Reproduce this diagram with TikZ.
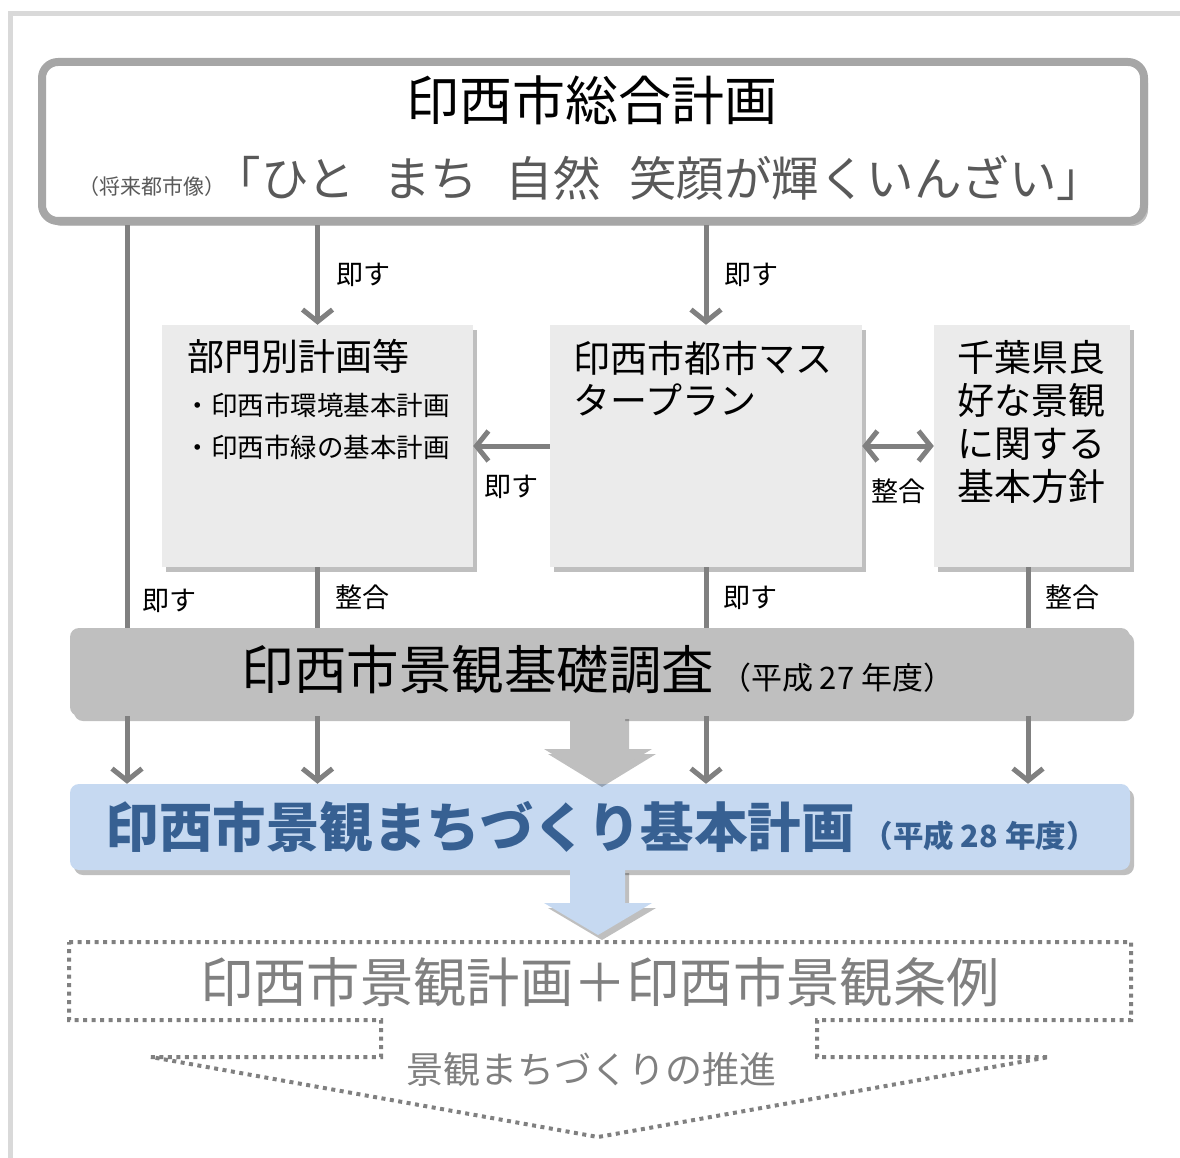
\documentclass[tikz,border=0pt]{standalone}
\usepackage{fontspec}
\setmainfont{Noto Sans CJK JP}
\usetikzlibrary{arrows.meta,shadows}

\definecolor{linegray}{HTML}{808080}
\definecolor{framegray}{HTML}{D9D9D9}
\definecolor{rimgray}{HTML}{A6A6A6}
\definecolor{boxgray}{HTML}{EBEBEB}
\definecolor{basegray}{HTML}{BFBFBF}
\definecolor{planblue}{HTML}{C6D9F1}
\definecolor{inkblue}{HTML}{376092}
\definecolor{inkgray}{HTML}{595959}
\newcommand{\fsz}[1]{\fontsize{#1}{#1}\selectfont}

\tikzset{
  dropsh/.style={drop shadow={shadow xshift=4pt,shadow yshift=-5pt,opacity=.25,fill=black}},
  box/.style={fill=boxgray,inner sep=0pt,minimum height=242pt,dropsh},
  band/.style={rounded corners=9pt,inner sep=0pt,minimum width=1060pt,dropsh},
  rel/.style={inner sep=0pt,font=\fsz{27}},
  ln/.style={draw=linegray,line width=5pt},
  arr/.style={ln,-{Straight Barb[length=12pt,width=30pt]}},
}

\begin{document}
\begin{tikzpicture}[x=1pt,y=-1pt]
  \useasboundingbox (0,0) rectangle (1180,1158);
  \draw[framegray,line width=5pt] (10,1160) -- (10,14) -- (1180,14);

  % general plan
  \node[draw=rimgray,line width=8pt,rounded corners=16pt,fill=white,
        minimum width=1102pt,minimum height=159pt,inner sep=0pt,dropsh] (sogo) at (593,141.5) {};
  \node[anchor=base] (title) at (592,121) {\fsz{53}印西市総合計画};
  \node[anchor=base,text=inkgray] (zou) at (152,195) {\fsz{21}（将来都市像）};
  \node[anchor=base,text=inkgray] (motto) at (659,197)
    {\fsz{47.5}「ひと\hspace*{28pt}まち\hspace*{28pt}自然\hspace*{28pt}笑顔が輝くいんざい」};

  % middle row
  \node[box,minimum width=311pt] (bumon) at (317.5,446) {};
  \node[box,minimum width=312pt] (master) at (706,446) {};
  \node[box,minimum width=196pt] (chiba) at (1032,446) {};
  \node[anchor=base west] (bumont) at (184,370) {\fsz{37}部門別計画等};
  \node[anchor=west,align=left,font={\fontsize{26.5}{42}\selectfont}] (bumonl) at (181,426)
    {・印西市環境基本計画\\ ・印西市緑の基本計画};
  \node[anchor=west,align=left,font={\fontsize{37}{42}\selectfont}] (mastert) at (570,379)
    {印西市都市マス\\ タープラン};
  \node[anchor=west,align=left,font={\fontsize{37}{43}\selectfont}] (chibat) at (954,422)
    {千葉県良\\ 好な景観\\ に関する\\ 基本方針};

  % survey and plan
  \node[band,fill=basegray,minimum height=88pt] (base) at (600,672) {};
  \node[anchor=base west] (baset) at (238,689)
    {\fsz{52.5}印西市景観基礎調査\hspace{6pt}{\fsz{31}（平成 27 年度）}};
  \node[band,fill=planblue,minimum height=86pt] (plan) at (600,827) {};
  \node[anchor=base west,text=inkblue] (plant) at (102,847)
    {\bfseries\fsz{53.5}印西市景観まちづくり基本計画\hspace{8pt}{\fsz{30.5}（平成 28 年度）}};

  \coordinate (c1) at (127,0);
  \coordinate (c4) at (1028,0);

  % connectors
  \draw[arr] (sogo.south -| bumon.north) -- node[rel,anchor=west,xshift=16pt] {即す} (bumon.north);
  \draw[arr] (sogo.south -| master.north) -- node[rel,anchor=west,xshift=16pt] {即す} (master.north);
  \draw[ln] (sogo.south -| c1) -- (base.north -| c1);
  \node[rel,anchor=west] (l1) at (142,601) {即す};
  \draw[ln] (bumon.south) -- node[rel,anchor=west,xshift=15pt] {整合} (bumon.south |- base.north);
  \draw[ln] (master.south) -- node[rel,anchor=west,xshift=15pt] {即す} (master.south |- base.north);
  \draw[ln] (chiba.south -| c4) -- node[rel,anchor=west,xshift=15pt] {整合} (base.north -| c4);
  \draw[arr] (master.west) -- node[rel,below=27pt] {即す} (bumon.east);
  \draw[ln,{Straight Barb[length=12pt,width=30pt]}-{Straight Barb[length=12pt,width=30pt]}]
    (master.east) -- node[rel,below=30pt] {整合} (chiba.west);

  \foreach \c in {c1,bumon,master,c4}
    \draw[arr] (base.south -| \c) -- (plan.north -| \c);

  % block arrows
  \fill[basegray,dropsh] (570,714) -- (625,714) -- (625,749) -- (652,749) -- (598,782)
    -- (544,749) -- (570,749) -- cycle;
  \fill[planblue,dropsh] (570,868) -- (625,868) -- (625,903) -- (652,903) -- (598,935)
    -- (544,903) -- (570,903) -- cycle;

  % outlook
  \draw[linegray,line width=4pt,dash pattern=on 4pt off 4.5pt]
    (69,942) -- (1131,942) -- (1131,1020) -- (817,1020) -- (817,1057) -- (1049,1057)
    -- (598,1137) -- (151,1057) -- (381,1057) -- (381,1020) -- (69,1020) -- cycle;
  \node[text=linegray] (keikaku) at (600,982) {\fsz{53.3}印西市景観計画＋印西市景観条例};
  \node[text=linegray] (suishin) at (591,1069) {\fsz{37}景観まちづくりの推進};
\end{tikzpicture}
\end{document}
